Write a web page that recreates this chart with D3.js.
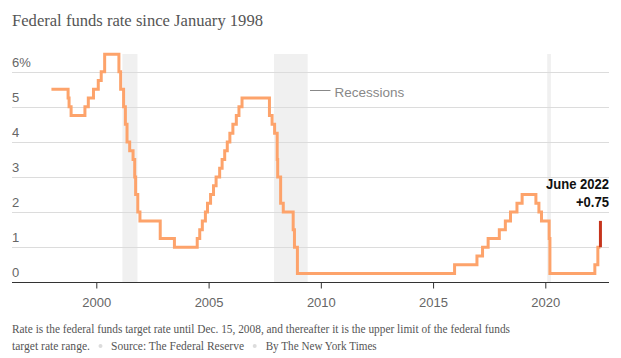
<!DOCTYPE html>
<html><head><meta charset="utf-8">
<script src="https://cdn.jsdelivr.net/npm/d3@7"></script>
<style>
body{margin:0;background:#fff;}
svg{display:block;}
</style></head>
<body>
<svg id="chart" width="621" height="358"></svg>
<script>
// Federal funds target rate (upper limit after Dec 2008), change dates
const changeDates = ["1998-01-01","1998-09-29","1998-10-15","1998-11-17","1999-06-30","1999-08-24","1999-11-16","2000-02-02","2000-03-21","2000-05-16","2001-01-03","2001-01-31","2001-03-20","2001-04-18","2001-05-15","2001-06-27","2001-08-21","2001-09-17","2001-10-02","2001-11-06","2001-12-11","2002-11-06","2003-06-25","2004-06-30","2004-08-10","2004-09-21","2004-11-10","2004-12-14","2005-02-02","2005-03-22","2005-05-03","2005-06-30","2005-08-09","2005-09-20","2005-11-01","2005-12-13","2006-01-31","2006-03-28","2006-05-10","2006-06-29","2007-09-18","2007-10-31","2007-12-11","2008-01-22","2008-01-30","2008-03-18","2008-04-30","2008-10-08","2008-10-29","2008-12-16","2015-12-17","2016-12-15","2017-03-16","2017-06-15","2017-12-14","2018-03-22","2018-06-14","2018-09-27","2018-12-20","2019-08-01","2019-09-19","2019-10-31","2020-03-04","2020-03-16","2022-03-17","2022-05-05","2022-06-16"];
const rates = [5.50,5.25,5.00,4.75,5.00,5.25,5.50,5.75,6.00,6.50,6.00,5.50,5.00,4.50,4.00,3.75,3.50,3.00,2.50,2.00,1.75,1.25,1.00,1.25,1.50,1.75,2.00,2.25,2.50,2.75,3.00,3.25,3.50,3.75,4.00,4.25,4.50,4.75,5.00,5.25,4.75,4.50,4.25,3.50,3.00,2.25,2.00,1.50,1.00,0.25,0.50,0.75,1.00,1.25,1.50,1.75,2.00,2.25,2.50,2.25,2.00,1.75,1.25,0.25,0.50,1.00,1.00];
const latestDate = "2022-06-16";
const latestFrom = 1.00;
const latestTo = 1.75;
const recessionStarts = ["2001-03-01","2007-12-01","2020-02-01"];
const recessionEnds = ["2001-11-01","2009-06-01","2020-04-01"];
const yTicks = [0,1,2,3,4,5,6];
const xTickYears = [2000,2005,2010,2015,2020];
const titleText = "Federal funds rate since January 1998";
const legendLabel = "Recessions";
const annoLines = ["June 2022","+0.75"];
const noteLine1 = "Rate is the federal funds target rate until Dec. 15, 2008, and thereafter it is the upper limit of the federal funds";
const noteLine2 = ["target rate range.","Source: The Federal Reserve","By The New York Times"];

const parse = d3.timeParse("%Y-%m-%d");
const svg = d3.select("#chart");
const sans = "'Liberation Sans', Arial, sans-serif";
const serif = "'Liberation Serif', 'DejaVu Serif', Georgia, serif";

const x = d3.scaleTime().domain([new Date(2000,0,1), new Date(2020,0,1)]).range([96.3, 545.3]);
const y = d3.scaleLinear().domain([0,6]).range([282.3, 71.7]);
const left = 12, right = 609, bandTop = 54;

svg.append("text").attr("x",12).attr("y",25.5).attr("font-family",serif).attr("font-size",17)
  .attr("fill","#555").attr("textLength",251).attr("lengthAdjust","spacingAndGlyphs").text(titleText);

// recessions
svg.append("g").selectAll("rect").data(recessionStarts.map((s,i)=>[parse(s),parse(recessionEnds[i])]))
  .join("rect").attr("x",d=>x(d[0])).attr("width",d=>Math.max(3,x(d[1])-x(d[0])))
  .attr("y",bandTop).attr("height",y(0)-bandTop).attr("fill","#f0f0f0");

// grid
svg.append("g").selectAll("line").data(yTicks.filter(d=>d>0)).join("line")
  .attr("x1",left).attr("x2",right).attr("y1",d=>Math.round(y(d))+0.5).attr("y2",d=>Math.round(y(d))+0.5)
  .attr("stroke","#dcdcdc").attr("stroke-width",1);
svg.append("g").selectAll("text").data(yTicks).join("text")
  .attr("x",left).attr("y",d=>y(d)-5).attr("font-family",sans).attr("font-size",13).attr("fill","#666")
  .text(d=>d===6? d+"%" : d);

// legend
svg.append("line").attr("x1",310).attr("x2",330.5).attr("y1",90.5).attr("y2",90.5).attr("stroke","#888").attr("stroke-width",1);
svg.append("text").attr("x",334.5).attr("y",96.5).attr("font-family",sans).attr("font-size",13.5).attr("fill","#888").text(legendLabel);

// x axis
const xAxis = d3.axisBottom(x).tickValues(xTickYears.map(yr=>new Date(yr,0,1))).tickFormat(d3.timeFormat("%Y")).tickSize(6).tickSizeOuter(0);
const gx = svg.append("g").attr("transform",`translate(0,${Math.round(y(0))+0.5})`).call(xAxis);
gx.select(".domain").remove();
gx.append("line").attr("x1",left).attr("x2",right).attr("stroke","#333");
gx.selectAll(".tick line").attr("stroke","#333");
gx.selectAll(".tick text").attr("font-family",sans).attr("font-size",13).attr("fill","#666").attr("dy",0).attr("y",24);

// rate line
const pts = changeDates.map((d,i)=>({date:parse(d),v:rates[i]}));
const line = d3.line().x(d=>x(d.date)).y(d=>y(d.v)).curve(d3.curveStepAfter);
svg.append("path").datum(pts).attr("d",line).attr("fill","none").attr("stroke","#fda36b")
  .attr("stroke-width",3).attr("stroke-linejoin","miter");

// latest change
const ld = parse(latestDate);
svg.append("line").attr("x1",x(ld)).attr("x2",x(ld)).attr("y1",y(latestFrom)).attr("y2",y(latestTo))
  .attr("stroke","#c6341c").attr("stroke-width",3);

// annotation
const annoWidths = [63,33];
annoLines.forEach((t,i)=>svg.append("text").attr("text-anchor","end").attr("font-family",sans)
  .attr("font-weight","bold").attr("font-size",14).attr("fill","#111")
  .attr("x",609).attr("y",189+i*17.5).attr("textLength",annoWidths[i]).attr("lengthAdjust","spacingAndGlyphs").text(t));

// footer
svg.append("text").attr("x",12).attr("y",333).attr("font-family",serif).attr("font-size",11.5).attr("fill","#555")
  .attr("textLength",498).attr("lengthAdjust","spacingAndGlyphs").text(noteLine1);
const f2x = [12,111,265.7], f2w = [78,133,111], bullets = [100.5,254.7];
noteLine2.forEach((t,i)=>svg.append("text").attr("x",f2x[i]).attr("y",350).attr("font-family",serif).attr("font-size",11.5)
  .attr("fill","#555").attr("textLength",f2w[i]).attr("lengthAdjust","spacingAndGlyphs").text(t));
bullets.forEach(bx=>svg.append("circle").attr("cx",bx).attr("cy",346).attr("r",2).attr("fill","#dcdcdc"));
</script>
</body></html>
